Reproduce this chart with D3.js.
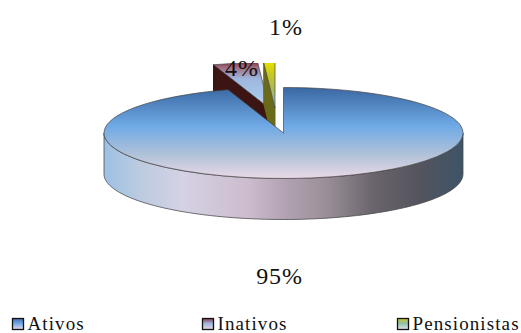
<!DOCTYPE html>
<html><head><meta charset="utf-8">
<script src="https://cdn.jsdelivr.net/npm/d3@7/dist/d3.min.js"></script>
<style>html,body{margin:0;background:#fff;overflow:hidden}svg{display:block}
text{font-family:"Liberation Serif",serif;fill:#111}</style></head><body>
<script>
const categories = ["Ativos","Inativos","Pensionistas"];
const values = [95,4,1];
const labels = ["95%","4%","1%"];
const W=521,H=333,cx=283.5,cy=133,rx=179.5,ry=45.5,depth=41;
const svg=d3.select("body").append("svg").attr("width",W).attr("height",H);
const defs=svg.append("defs");
function grad(id,attrs,stops,user){
  const g=defs.append("linearGradient").attr("id",id).attr("gradientUnits",user?"userSpaceOnUse":"objectBoundingBox");
  Object.entries(attrs).forEach(([k,v])=>g.attr(k,v));
  stops.forEach(([o,c])=>g.append("stop").attr("offset",o).attr("stop-color",c));
}
const vert={x1:0,x2:0,y1:0,y2:1};
grad("top0",vert,[[0,"#3a68a2"],[.42,"#6fa9e6"],[.75,"#b3c3d8"],[1,"#ead9e8"]]);
grad("top1",vert,[[0,"#8a3b4a"],[.1,"#a06a7c"],[.35,"#9fb6dc"],[.75,"#a6c8ea"],[1,"#d8d8e4"]]);
grad("top2",vert,[[0,"#e8e000"],[.25,"#c8c820"],[.6,"#a9b860"],[1,"#98b8d0"]]);
grad("wall",{x1:cx-rx,x2:cx+rx,y1:0,y2:0},[[0,"#9cc0e4"],[.1,"#bccbe0"],[.22,"#d4d2e4"],[.4,"#cdbccd"],[.5,"#b3a3b3"],[.62,"#9a8f98"],[.75,"#6a646c"],[.88,"#54545e"],[1,"#3e5468"]],true);
grad("lg0",vert,[[0,"#3f6ea8"],[.45,"#6fa9e6"],[1,"#ead9e8"]]);
grad("lg1",vert,[[0,"#8a3b4a"],[.45,"#9fb6dc"],[1,"#ead9e8"]]);
grad("lg2",vert,[[0,"#c8c820"],[.45,"#8fc0a8"],[1,"#e4e4ec"]]);
defs.append("clipPath").attr("id","clip").append("rect").attr("x",0).attr("y",63).attr("width",W).attr("height",H);

const pie=d3.pie().sort(null);
const arcs=pie(values);
const arc=d3.arc().innerRadius(0).outerRadius(rx);
const pt=(a,ox,oy)=>[ox+rx*Math.sin(a),oy-ry*Math.cos(a)];
const k=ry/rx;
const apex=[[cx,cy],[269,108],[275,108]];
const walls=["url(#wall)","#3c1414","#6a6a18"];
const stroke="#444";
const g=svg.append("g");
function drawSlice(i){
  const d=arcs[i],[ox,oy]=apex[i];
  const sg=g.append("g").attr("clip-path",i?"url(#clip)":null);
  if(i===0){
    const range=d3.range(90,270.5,2).map(x=>x*Math.PI/180);
    const area=d3.area().x(a=>pt(a,ox,oy)[0]).y0(a=>pt(a,ox,oy)[1]).y1(a=>pt(a,ox,oy)[1]+depth);
    sg.append("path").attr("d",area(range)).attr("fill","url(#wall)").attr("stroke",stroke).attr("stroke-width",1).attr("stroke-opacity",.75);
  } else {
    const p=pt(d.startAngle,ox,oy);
    const poly=[[ox,oy],p,[p[0],p[1]+depth],[ox,oy+depth]];
    sg.append("path").attr("d",d3.line()(poly)+"Z").attr("fill",walls[i]).attr("stroke",walls[i]);
  }
  sg.append("path").attr("d",arc(d))
    .attr("transform",`translate(${ox},${oy}) scale(1,${k})`)
    .attr("fill",`url(#top${i})`).attr("stroke",stroke).attr("stroke-opacity",.7)
    .attr("vector-effect","non-scaling-stroke").attr("stroke-width",1);
}
[1,2,0].forEach(drawSlice);

const lblPos=[[279.5,284],[242,76],[286,35]];
svg.selectAll("text.p").data(labels).join("text").attr("class","p")
  .attr("x",(d,i)=>lblPos[i][0]).attr("y",(d,i)=>lblPos[i][1])
  .attr("text-anchor","middle").attr("font-size",24).attr("letter-spacing",.9).text(d=>d);

const lx=[12,202,397];
const lg=svg.selectAll("g.l").data(categories).join("g").attr("class","l").attr("transform",(d,i)=>`translate(${lx[i]},0)`);
lg.append("rect").attr("x",.5).attr("y",318.5).attr("width",11).attr("height",11)
  .attr("fill",(d,i)=>`url(#lg${i})`).attr("stroke","#111").attr("stroke-width",1.3);
lg.append("text").attr("x",15.5).attr("y",330).attr("font-size",19).attr("letter-spacing",1.1).text(d=>d);
</script></body></html>
